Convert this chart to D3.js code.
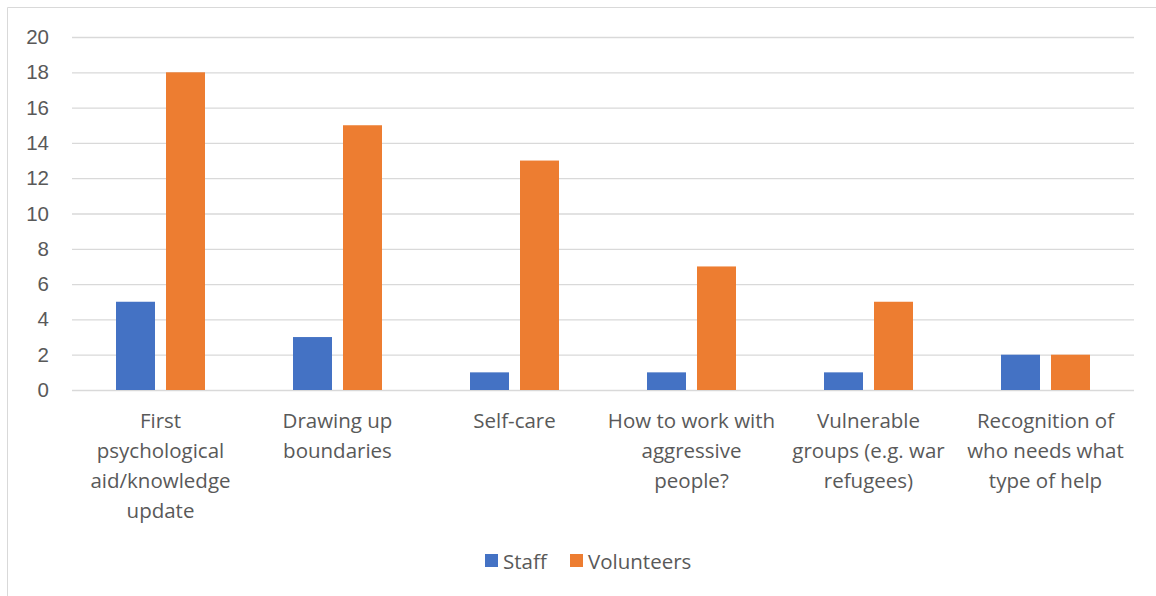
<!DOCTYPE html>
<html>
<head>
<meta charset="utf-8">
<script src="https://cdn.jsdelivr.net/npm/d3@7"></script>
<style>
  body { margin: 0; background: #fff; }
  svg { display: block; font-family: "Open Sans", sans-serif; }
</style>
</head>
<body>
<svg id="chart" width="1156" height="596"></svg>
<script>
// Training needs: counts per topic, staff vs volunteers
const categories = [
  ['First', 'psychological', 'aid/knowledge', 'update'],
  ['Drawing up', 'boundaries'],
  ['Self-care'],
  ['How to work with', 'aggressive', 'people?'],
  ['Vulnerable', 'groups (e.g. war', 'refugees)'],
  ['Recognition of', 'who needs what', 'type of help']
];
const seriesNames = ['Staff', 'Volunteers'];
const staff = [5, 3, 1, 1, 1, 2];
const volunteers = [18, 15, 13, 7, 5, 2];
const yTicks = [0, 2, 4, 6, 8, 10, 12, 14, 16, 18, 20];
const colors = ['#4472C4', '#ED7D31'];

const svg = d3.select('#chart');
const W = 1156, H = 596;
const PAD = { top: 37, right: 22, bottom: 206, left: 72 };
const FONT = '20.5px';

// chart frame (only top and left edges visible in the crop)
svg.append('line').attr('x1', 7.5).attr('x2', W).attr('y1', 7.5).attr('y2', 7.5)
  .attr('stroke', '#D9D9D9').attr('stroke-width', 1);
svg.append('line').attr('x1', 7.5).attr('x2', 7.5).attr('y1', 7.5).attr('y2', H)
  .attr('stroke', '#D9D9D9').attr('stroke-width', 1);

const idx = d3.range(categories.length);
const x = d3.scaleBand().domain(idx).range([PAD.left, W - PAD.right]);
const y = d3.scaleLinear().domain([0, 20]).range([H - PAD.bottom, PAD.top]);
const xInner = d3.scaleBand().domain([0, 1]).range([44, 133]).paddingInner(0.22);

// gridlines + y labels
const yAxis = svg.append('g').attr('transform', `translate(${PAD.left},0)`)
  .call(d3.axisLeft(y).tickValues(yTicks).tickSize(-(W - PAD.left - PAD.right)).tickPadding(23));
yAxis.select('.domain').remove();
yAxis.selectAll('.tick line').attr('stroke', '#D9D9D9').attr('stroke-width', 1.3);
yAxis.selectAll('.tick text').attr('fill', '#595959').style('font-size', FONT);

// bars
const series = [staff, volunteers];
series.forEach((vals, s) => {
  svg.append('g').selectAll('rect').data(vals).join('rect')
    .attr('x', (d, i) => x(i) + xInner(s))
    .attr('width', xInner.bandwidth())
    .attr('y', d => y(d))
    .attr('height', d => y(0) - y(d))
    .attr('fill', colors[s]);
});

// category labels
const labels = svg.append('g');
categories.forEach((lines, i) => {
  const t = labels.append('text')
    .attr('x', x(i) + x.bandwidth() / 2)
    .attr('y', 428)
    .attr('text-anchor', 'middle')
    .attr('fill', '#595959')
    .style('font-size', FONT);
  lines.forEach((ln, j) => {
    t.append('tspan').attr('x', x(i) + x.bandwidth() / 2).attr('dy', j === 0 ? 0 : 30).text(ln);
  });
});

// legend
const legend = svg.append('g').attr('transform', 'translate(485,561)');
const legendX = [0, 85];
seriesNames.forEach((name, s) => {
  legend.append('rect').attr('x', legendX[s]).attr('y', -7).attr('width', 13).attr('height', 13).attr('fill', colors[s]);
  legend.append('text').attr('x', legendX[s] + 18).attr('y', 0).attr('dominant-baseline', 'central')
    .attr('fill', '#595959').style('font-size', FONT).text(name);
});
</script>
</body>
</html>
